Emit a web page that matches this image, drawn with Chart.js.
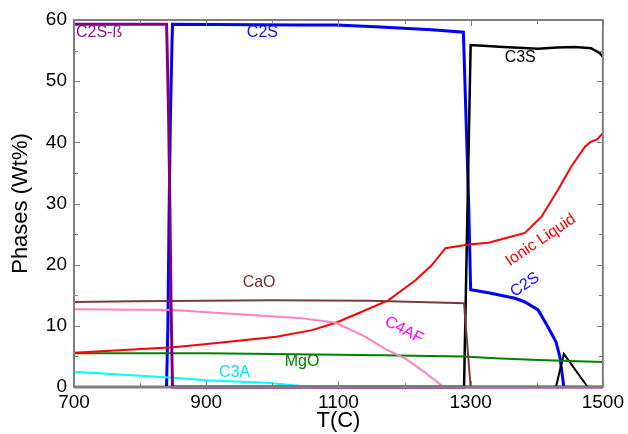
<!DOCTYPE html>
<html>
<head>
<meta charset="utf-8">
<script src="https://cdn.jsdelivr.net/npm/chart.js@4"></script>
<style>
  html, body { margin: 0; padding: 0; background: #fff; }
  #wrap { width: 628px; height: 434px; }
</style>
</head>
<body>
<div id="wrap"><canvas id="chart_phases"></canvas></div>
<script>
// temperature (C) / phase amount (wt%)
const c2sBetaT = [700, 840, 841, 843, 845, 847, 849, 1500];
const c2sBetaW = [59.3, 59.3, 55, 45, 30, 12, 0, 0];

const c2sT = [840, 842, 844, 846, 848, 849, 1040, 1096, 1156, 1241, 1289, 1297, 1300, 1327, 1367, 1382, 1402, 1417, 1429, 1435, 1441];
const c2sW = [0, 10, 30, 45, 55, 59.3, 59.2, 59.2, 58.9, 58.4, 58.0, 30, 15.9, 15.4, 14.5, 13.9, 12.6, 9.8, 7.4, 4.9, 0];

const c3sT = [700, 1290, 1300, 1350, 1402, 1430, 1458, 1482, 1495, 1500];
const c3sW = [0, 0, 55.9, 55.6, 55.3, 55.5, 55.6, 55.4, 54.6, 54.0];

const c3sSpikeT = [1429, 1441, 1477];
const c3sSpikeW = [0, 5.4, 0];

const liquidT = [700, 850, 890, 1006, 1060, 1096, 1131, 1176, 1217, 1241, 1262, 1297, 1327, 1382, 1407, 1432, 1452, 1473, 1482, 1492, 1500];
const liquidW = [5.6, 6.5, 6.9, 8.2, 9.3, 10.5, 12.1, 14.2, 17.5, 19.9, 22.7, 23.3, 23.6, 25.2, 27.8, 32.2, 36.0, 39.3, 40.1, 40.5, 41.5];

const caoT = [700, 790, 1000, 1150, 1290, 1300, 1500];
const caoW = [13.9, 14.0, 14.2, 14.1, 13.7, 0, 0];

const c4afT = [700, 850, 890, 1040, 1096, 1141, 1171, 1202, 1232, 1259];
const c4afW = [12.7, 12.6, 12.3, 11.3, 10.5, 8.2, 6.2, 4.6, 2.3, 0];

const mgoT = [700, 900, 1166, 1290, 1337, 1402, 1500];
const mgoW = [5.5, 5.5, 5.2, 5.0, 4.7, 4.4, 4.1];

const c3aT = [700, 850, 900, 990, 1060];
const c3aW = [2.5, 1.5, 1.1, 0.7, 0];

const labelText = ['C2S-\u00df', 'C2S', 'C3S', 'Ionic Liquid', 'C2S', 'CaO', 'C4AF', 'MgO', 'C3A'];
const labelT = [703, 985, 1375, 1406, 1382, 980, 1199, 1045, 943];
const labelW = [57.9, 57.9, 53.9, 24.0, 16.7, 17.0, 9.3, 4.1, 2.3];

function pts(xs, ys) {
    return xs.map((x, i) => ({x: x, y: ys[i]}));
}

function line(data, color, width) {
    return {
        data: data,
        borderColor: color,
        backgroundColor: color,
        borderWidth: width,
        pointRadius: 0,
        tension: 0,
        fill: false,
        showLine: true,
        clip: 4
    };
}

const labelStyle = [
    {color: '#8b1a8b', rot: 0, align: 'left'},
    {color: '#1010ff', rot: 0},
    {color: '#000000', rot: 0},
    {color: '#ff0000', rot: -34},
    {color: '#1010ff', rot: -34},
    {color: '#7a2e2e', rot: 0},
    {color: '#ff00ff', rot: 28},
    {color: '#008000', rot: 0},
    {color: '#00e5ee', rot: 0}
];

const fontFamily = '"Liberation Sans", Arial, sans-serif';

// inward ticks and closed frame, like the original plot
const framePlugin = {
    id: 'frame',
    afterDatasetsDraw(chart) {
        const ctx = chart.ctx;
        const a = chart.chartArea;
        const xs = chart.scales.x, ys = chart.scales.y;
        ctx.save();
        ctx.strokeStyle = '#7f7f7f';
        ctx.lineWidth = 1;
        for (let t = 700; t <= 1500; t += 100) {
            const p = Math.round(xs.getPixelForValue(t)) + 0.5;
            const len = (t - 700) % 200 === 0 ? 6 : 4;
            ctx.beginPath();
            ctx.moveTo(p, a.top); ctx.lineTo(p, a.top + len);
            ctx.moveTo(p, a.bottom); ctx.lineTo(p, a.bottom - len);
            ctx.stroke();
        }
        for (let v = 0; v <= 60; v += 5) {
            const p = Math.round(ys.getPixelForValue(v)) + 0.5;
            const len = v % 10 === 0 ? 6 : 4;
            ctx.beginPath();
            ctx.moveTo(a.left, p); ctx.lineTo(a.left + len, p);
            ctx.moveTo(a.right, p); ctx.lineTo(a.right - len, p);
            ctx.stroke();
        }
        ctx.lineWidth = 2;
        ctx.strokeRect(a.left, a.top, a.right - a.left, a.bottom - a.top);
        // series labels
        ctx.font = '16px ' + fontFamily;
        ctx.textBaseline = 'middle';
        labelText.forEach((txt, i) => {
            const s = labelStyle[i];
            ctx.save();
            ctx.translate(xs.getPixelForValue(labelT[i]), ys.getPixelForValue(labelW[i]));
            ctx.rotate(s.rot * Math.PI / 180);
            ctx.fillStyle = s.color;
            ctx.textAlign = s.align || 'center';
            ctx.fillText(txt, 0, 0);
            ctx.restore();
        });
        ctx.restore();
    }
};

const ctx = document.getElementById('chart_phases').getContext('2d');
const chart = new Chart(ctx, {
    type: 'scatter',
    data: {
        datasets: [
            line(pts(c2sBetaT, c2sBetaW), '#800080', 3),
            line(pts(caoT, caoW), '#7a3a3a', 2),
            line(pts(c4afT, c4afW), '#ff80c0', 2),
            line(pts(liquidT, liquidW), '#ff0000', 2),
            line(pts(mgoT, mgoW), '#008000', 2),
            line(pts(c3aT, c3aW), '#00ffff', 2),
            line(pts(c3sT, c3sW), '#000000', 2.5),
            line(pts(c3sSpikeT, c3sSpikeW), '#000000', 2),
            line(pts(c2sT, c2sW), '#0000ff', 3)
        ]
    },
    options: {
        responsive: true,
        maintainAspectRatio: false,
        animation: false,
        layout: {padding: {top: 20, right: 23, left: 0, bottom: 0}},
        plugins: {
            legend: {display: false},
            tooltip: {enabled: false}
        },
        scales: {
            x: {
                type: 'linear',
                min: 700,
                max: 1500,
                afterFit: s => { s.height = 47; },
                ticks: {
                    stepSize: 200,
                    color: '#000',
                    padding: 4,
                    callback: v => String(v),
                    font: {family: fontFamily, size: 19}
                },
                grid: {display: false, tickLength: 0},
                border: {display: false},
                title: {
                    display: true,
                    text: 'T(C)',
                    color: '#000',
                    padding: {top: 0, bottom: 0},
                    font: {family: fontFamily, size: 22}
                }
            },
            y: {
                min: 0,
                max: 60,
                afterFit: s => { s.width = 74; },
                ticks: {
                    stepSize: 10,
                    color: '#000',
                    padding: 7,
                    callback: v => String(v),
                    font: {family: fontFamily, size: 19}
                },
                grid: {display: false, tickLength: 0},
                border: {display: false},
                title: {
                    display: true,
                    text: 'Phases (Wt%)',
                    color: '#000',
                    padding: {top: 8, bottom: 0},
                    font: {family: fontFamily, size: 22}
                }
            }
        }
    },
    plugins: [framePlugin]
});
</script>
</body>
</html>
